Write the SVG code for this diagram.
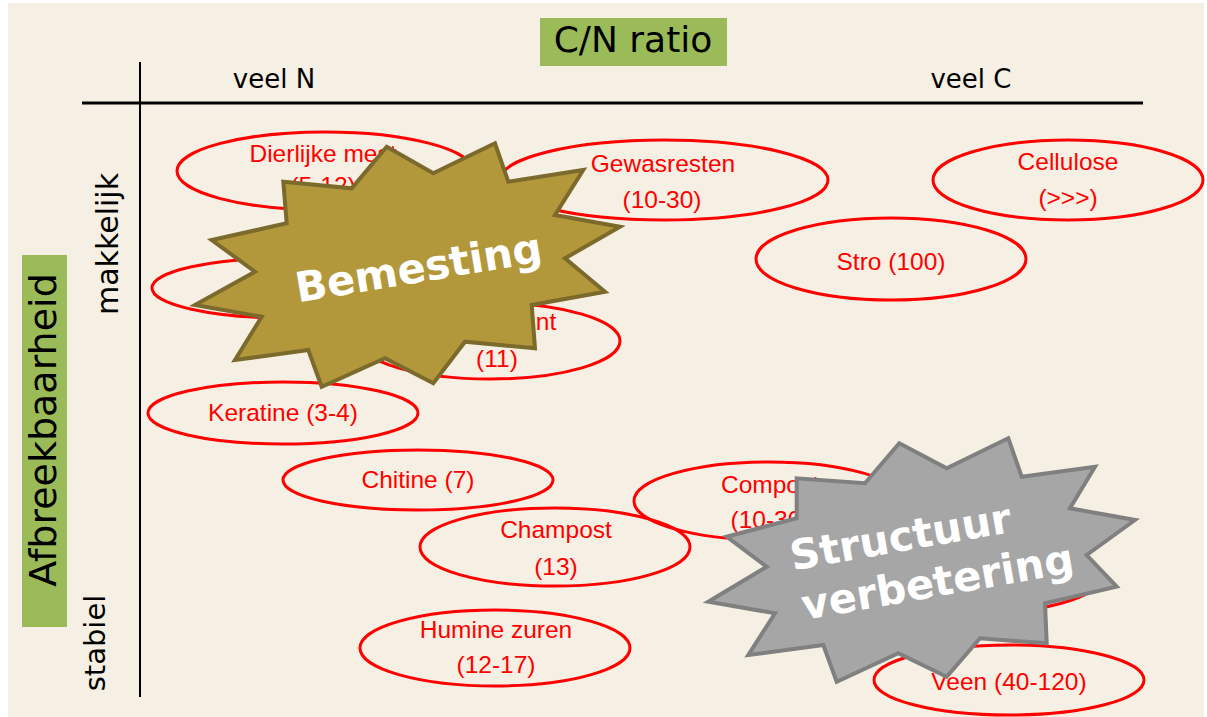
<svg xmlns="http://www.w3.org/2000/svg" width="1207" height="717" viewBox="0 0 1207 717">
<style>
.el{fill:none;stroke:#ff0000;stroke-width:3}
.lb{font-family:"Liberation Sans",Arial,sans-serif;font-size:24.5px;fill:#ff0000;text-anchor:middle}
.ax{font-family:"DejaVu Sans",Verdana,sans-serif;fill:#000}
.burst{font-family:"DejaVu Sans",Verdana,sans-serif;font-weight:bold;font-size:41.5px;fill:#ffffff;text-anchor:middle}
</style>
<rect x="0" y="0" width="1207" height="717" fill="#ffffff"/>
<rect x="8" y="3" width="1196" height="714" fill="#f5f0e3"/>

<g id="title-cn">
<rect x="540" y="18" width="187" height="48" fill="#9bbb59"/>
<text class="ax" x="633" y="52" font-size="36" text-anchor="middle">C/N ratio</text>
</g>
<g id="title-afbreek">
<rect x="22" y="255" width="45" height="372" fill="#9bbb59"/>
<text class="ax" transform="translate(56,430) rotate(-90)" font-size="38" text-anchor="middle">Afbreekbaarheid</text>
</g>

<g id="connectors">
<line x1="82" y1="103" x2="1143" y2="103" stroke="#000" stroke-width="3"/>
<line x1="140" y1="62" x2="140" y2="697" stroke="#000" stroke-width="2"/>
</g>

<g id="axis-labels">
<text class="ax" x="274" y="88" font-size="26" text-anchor="middle">veel N</text>
<text class="ax" x="971" y="88" font-size="26" text-anchor="middle">veel C</text>
<text class="ax" transform="translate(118,244) rotate(-90)" font-size="30" text-anchor="middle">makkelijk</text>
<text class="ax" transform="translate(105,643) rotate(-90)" font-size="29" text-anchor="middle">stabiel</text>
</g>

<g id="n-dierlijke-mest">
<ellipse class="el" cx="325" cy="171" rx="148" ry="39"/>
<text class="lb" x="323" y="162">Dierlijke mest</text>
<text class="lb" x="323" y="194">(5-12)</text>
</g>
<g id="n-gewasresten">
<ellipse class="el" cx="664" cy="180" rx="164" ry="40"/>
<text class="lb" x="663" y="172">Gewasresten</text>
<text class="lb" x="662" y="208">(10-30)</text>
</g>
<g id="n-cellulose">
<ellipse class="el" cx="1068" cy="180" rx="135" ry="40"/>
<text class="lb" x="1068" y="170">Cellulose</text>
<text class="lb" x="1068" y="206">(&gt;&gt;&gt;)</text>
</g>
<g id="n-stro">
<ellipse class="el" cx="891" cy="259" rx="135" ry="41"/>
<text class="lb" x="891" y="270">Stro (100)</text>
</g>
<g id="n-hidden-left">
<ellipse class="el" cx="287" cy="288" rx="135" ry="30"/>
</g>
<g id="n-11">
<ellipse class="el" cx="490" cy="341" rx="130" ry="38"/>
<text class="lb" x="546" y="330" text-anchor="end">nt</text>
<text class="lb" x="497" y="367">(11)</text>
</g>
<g id="n-keratine">
<ellipse class="el" cx="283" cy="413" rx="135" ry="31"/>
<text class="lb" x="283" y="421">Keratine (3-4)</text>
</g>
<g id="n-chitine">
<ellipse class="el" cx="418" cy="480" rx="135" ry="30"/>
<text class="lb" x="418" y="488">Chitine (7)</text>
</g>
<g id="n-champost">
<ellipse class="el" cx="555" cy="547" rx="135" ry="39"/>
<text class="lb" x="556" y="538">Champost</text>
<text class="lb" x="556" y="575">(13)</text>
</g>
<g id="n-compost">
<ellipse class="el" cx="769" cy="501" rx="135" ry="39"/>
<text class="lb" x="770" y="493">Compost</text>
<text class="lb" x="770" y="528">(10-30)</text>
</g>
<g id="n-hidden-right">
<ellipse class="el" cx="965" cy="578" rx="135" ry="36"/>
</g>
<g id="n-humine">
<ellipse class="el" cx="495" cy="648" rx="135" ry="38"/>
<text class="lb" x="496" y="638">Humine zuren</text>
<text class="lb" x="496" y="673">(12-17)</text>
</g>
<g id="n-veen">
<ellipse class="el" cx="1009" cy="680" rx="135" ry="35"/>
<text class="lb" x="1009" y="690">Veen (40-120)</text>
</g>

<g id="n-bemesting">
<polygon points="386.7,146.7 433.3,173.3 495,143.3 508.3,181.7 583.3,170 555,215 620,226.7 565,258.3 605,291.7 531.7,305 535,348.3 465,341.7 433.3,383.3 385,358.3 321.7,386.7 308.3,350 235,360 261.7,316.7 195,305 255,271.7 211.7,240 286.7,223.3 283.3,181.7 351.7,188.3" fill="#b3983b" stroke="#7b6a2c" stroke-width="4"/>
<text class="burst" transform="translate(421,282) rotate(-9.5)" font-size="43">Bemesting</text>
</g>
<g id="n-structuur">
<polygon points="899.3,443.3 946.7,468.3 1008.3,438.3 1021.7,476.7 1095,466.7 1070,508.3 1135,520 1086.7,555 1116.7,586.7 1045,603.3 1046.7,643.3 980,638.3 946.7,676.7 898.3,653.3 836.7,681.7 823.3,645 748.3,655 775,613.3 708.3,601.7 766.7,566.7 726.7,536.7 796.7,518.3 796.7,478.3 865,483.3" fill="#a6a6a6" stroke="#808080" stroke-width="4"/>
<text class="burst" transform="translate(903,551) rotate(-10)">Structuur</text>
<text class="burst" transform="translate(940,596) rotate(-10)">verbetering</text>
</g>
</svg>
